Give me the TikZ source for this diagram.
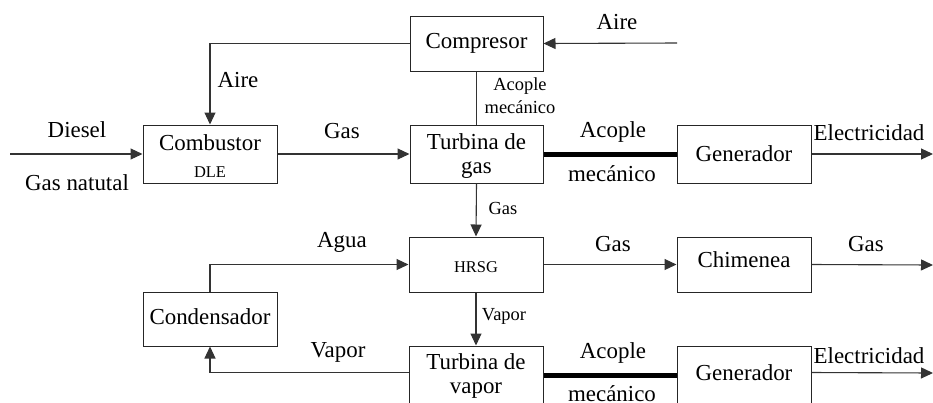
\documentclass[tikz,border=0pt]{standalone}
\usepackage{fontspec}
\setmainfont{Liberation Serif}
\usetikzlibrary{arrows.meta,calc}
\begin{document}
\begin{tikzpicture}[x=1bp,y=-1bp,
  box/.style={draw=black!85,line width=1bp,rectangle,inner sep=0pt,minimum width=134bp},
  big/.style={font=\fontsize{23}{27}\selectfont,inner sep=0pt},
  sml/.style={font=\fontsize{18.5}{21}\selectfont,inner sep=0pt},
  ln/.style={draw=black!80,line width=1.1bp},
  arr/.style={ln,-{Triangle[length=12bp,width=11bp]}},
  thick line/.style={draw=black,line width=5bp}]
\useasboundingbox (0,0) rectangle (933,402);
\clip (0,0) rectangle (933,402);
% boxes
\node[box,minimum width=133bp,minimum height=55bp] (comp) at (476.5,43.5) {};
\node[box,minimum height=58bp] (comb) at (210,154) {};
\node[box,minimum width=133bp,minimum height=58bp] (tg) at (476.5,154) {};
\node[box,minimum height=58bp] (gen1) at (744,154) {};
\node[box,minimum height=55bp] (hrsg) at (476,264.5) {};
\node[box,minimum height=55bp] (chim) at (744,264.5) {};
\node[box,minimum height=54bp] (cond) at (210,319) {};
\node[box,minimum height=64bp] (tv) at (476,378) {};
\node[box,minimum height=64bp] (gen2) at (744,378) {};
% box texts
\node[big] (tcomp) at (476.5,43) {Compresor};
\node[big] (tcomb) at (210,143) {Combustor};
\node[sml,font=\fontsize{16.5}{19}\selectfont] (tdle) at (210,172) {DLE};
\node[big] (ttg1) at (476.5,142) {Turbina de};
\node[big] (ttg2) at (476.5,170) {gas};
\node[big] (tgen1) at (744,154) {Generador};
\node[sml,font=\fontsize{16.5}{19}\selectfont] (thrsg) at (476,267) {HRSG};
\node[big] (tchim) at (744,260) {Chimenea};
\node[big] (tcond) at (210,317) {Condensador};
\node[big] (ttv1) at (476,362) {Turbina de};
\node[big] (ttv2) at (476,391) {vapor};
\node[big] (tgen2) at (744,373) {Generador};
% free ends
\coordinate (din) at (10,154);
\coordinate (ain) at (677,43);
\coordinate (e1) at (933,154);
\coordinate (gout) at (933,265);
\coordinate (e2) at (933,373);
\coordinate (tvw) at ($(tv.north west)+(0,27)$);
\coordinate (tve) at ($(tv.north east)+(0,30)$);
\coordinate (g2w) at ($(gen2.north west)+(0,30)$);
\coordinate (g2e) at ($(gen2.north east)+(0,27)$);
% connectors
\draw[arr] (din) -- (comb.west);
\draw[arr] (comb.east) -- (tg.west);
\draw[arr] (comp.west) -| (comb.north);
\draw[arr] (ain) -- (comp.east);
\draw[ln] (comp.south) -- (tg.north);
\draw[thick line] (tg.east) -- (gen1.west);
\draw[arr] (gen1.east) -- (e1);
\draw[arr] (tg.south) -- (hrsg.north);
\draw[arr] (hrsg.east) -- (chim.west);
\draw[arr] (chim.east) -- (gout);
\draw[arr] (hrsg.south) -- (tv.north);
\draw[arr] (tvw) -| (cond.south);
\draw[arr] (cond.north) |- (hrsg.west);
\draw[thick line] (tve) -- (g2w);
\draw[arr] (g2e) -- (e2);
% labels
\node[big] (lair1) at (238,80) {Aire};
\node[big] (ldie) at (77,130) {Diesel};
\node[big] (lgn) at (77,183) {Gas natutal};
\node[big] (lgas1) at (342,131) {Gas};
\node[big] (lair2) at (617,22) {Aire};
\node[sml] (lac1) at (520,86) {Acople};
\node[sml] (lme1) at (520,107) {mecánico};
\node[big] (lac2) at (613,132) {Acople};
\node[big] (lme2) at (612,174) {mecánico};
\node[big] (lel1) at (869,133) {Electricidad};
\node[sml] (lgas2) at (503,208) {Gas};
\node[big] (lgas3) at (613,244) {Gas};
\node[big] (lgas4) at (866,244) {Gas};
\node[big] (lagua) at (342,242) {Agua};
\node[sml] (lvap1) at (504,316) {Vapor};
\node[big] (lvap2) at (338,352) {Vapor};
\node[big] (lac3) at (613,353) {Acople};
\node[big] (lme3) at (612,394) {mecánico};
\node[big] (lel2) at (869,356) {Electricidad};
\end{tikzpicture}
\end{document}
